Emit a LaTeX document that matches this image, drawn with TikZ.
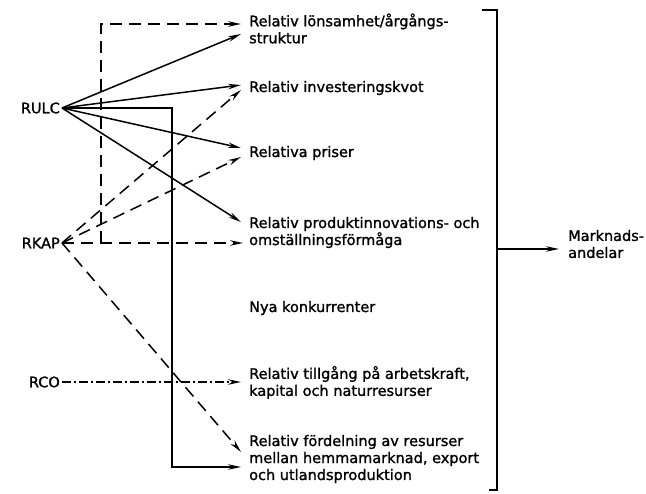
\documentclass[tikz,border=0pt]{standalone}
\usepackage{fontspec}
\setmainfont{DejaVu Sans}[AutoFakeBold=1.3]
\usetikzlibrary{arrows.meta}
\begin{document}
\begin{tikzpicture}[x=1pt,y=-1pt,
  lbl/.style={font=\fontsize{14.5}{17}\selectfont\bfseries, align=left, anchor=west, inner sep=0pt},
  src/.style={font=\fontsize{14.5}{17}\selectfont\bfseries, anchor=east, inner sep=2pt},
  conn/.style={line width=1.5pt, -{Stealth[length=13pt,width=5.5pt]}},
  dsh/.style={conn, dash pattern=on 12pt off 7pt},
  dd/.style={conn, dash pattern=on 9pt off 3pt on 2pt off 3pt},
  plain/.style={line width=1.6pt}]
\useasboundingbox (0,0) rectangle (646,494);

% sources
\node[src] (rulc) at (62,108) {RULC};
\node[src] (rkap) at (62,243) {RKAP};
\node[src] (rco)  at (62,382) {RCO};

% targets
\node[lbl] (lon) at (249,28.5) {Relativ lönsamhet/årgångs-\\struktur};
\node[lbl] (inv) at (249,88) {Relativ investeringskvot};
\node[lbl] (pri) at (249,153) {Relativa priser};
\node[lbl] (pro) at (249,232.5) {Relativ produktinnovations- och\\omställningsförmåga};
\node[lbl] (nya) at (249,308) {Nya konkurrenter};
\node[lbl] (til) at (249,382.5) {Relativ tillgång på arbetskraft,\\kapital och naturresurser};
\node[lbl] (for) at (249,459) {Relativ fördelning av resurser\\mellan hemmamarknad, export\\och utlandsproduktion};
\node[lbl] (mark) at (568,244) {Marknads-\\andelar};

% arrow tips and bends
\coordinate (tLonA) at (241,24);
\coordinate (tLonB) at (241,34);
\coordinate (tInvA) at (241,85);
\coordinate (tInvB) at (241,90);
\coordinate (tPriA) at (241,148);
\coordinate (tPriB) at (241,157);
\coordinate (tProA) at (241,222);
\coordinate (tProB) at (243,243);
\coordinate (tTil)  at (241,382);
\coordinate (tForA) at (241,452);
\coordinate (tForB) at (241,467);
\coordinate (jK)    at (101,243);
\coordinate (jKtop) at (101,24);
\coordinate (jR)    at (172,108);
\coordinate (jRbot) at (172,467);

% RKAP (dashed)
\draw[dsh] (rkap.east) -- (tProB);
\draw[dsh] (jK) -- (jKtop) -- (tLonA);
\draw[dsh] (rkap.east) -- (tInvB);
\draw[dsh] (rkap.east) -- (tPriB);
\draw[dsh] (rkap.east) -- (tForA);

% RULC (solid)
\draw[conn] (rulc.east) -- (tLonB);
\draw[conn] (rulc.east) -- (tInvA);
\draw[conn] (rulc.east) -- (tPriA);
\draw[conn] (rulc.east) -- (tProA);
\draw[conn] (rulc.east) -- (jR) -- (jRbot) -- (tForB);

% RCO (dash-dot)
\draw[dd] (rco.east) -- (tTil);

% bracket and result
\draw[plain] (482,10) -- (497,10) -- (497,490) -- (489,490);
\coordinate (bm) at (497,249);
\draw[conn, shorten >=9pt] (bm) -- (bm -| mark.west);
\end{tikzpicture}
\end{document}
